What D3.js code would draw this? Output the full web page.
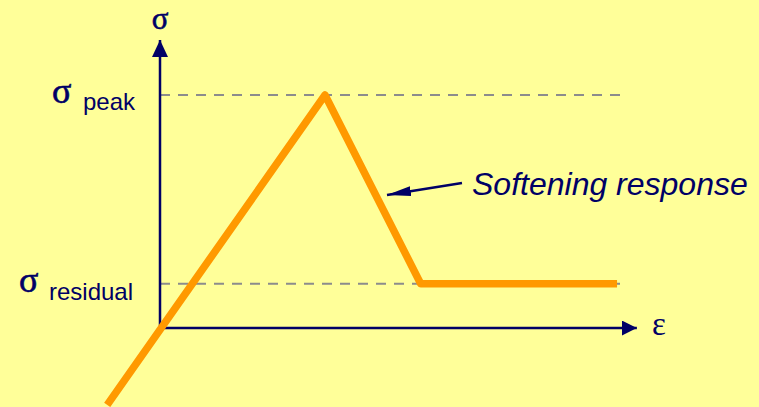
<!DOCTYPE html>
<html>
<head>
<meta charset="utf-8">
<script src="https://cdn.jsdelivr.net/npm/d3@7"></script>
<style>
  body { margin: 0; background: #ffff99; }
  svg { display: block; }
</style>
</head>
<body>
<script>
// data (strain / stress normalised to the peak)
const strain = [-0.32, 1, 1.58, 2.77];
const stress = [-0.33, 1, 0.19, 0.19];
const peakStress = 1;
const residualStress = 0.19;
const labels = { peak: 'peak', residual: 'residual', note: 'Softening response' };

const W = 759, H = 407;
const navy = '#000066';

const svg = d3.select('body').append('svg')
  .attr('width', W)
  .attr('height', H);

svg.append('rect').attr('width', W).attr('height', H).attr('fill', '#ffff99');

// scales: origin at (160, 328)
const x = d3.scaleLinear().domain([0, 1]).range([160, 325]);
const y = d3.scaleLinear().domain([0, 1]).range([328, 95]);

// arrow markers
const defs = svg.append('defs');
function marker(id, len, wid) {
  defs.append('marker')
    .attr('id', id)
    .attr('viewBox', '0 0 10 10')
    .attr('refX', 10).attr('refY', 5)
    .attr('markerUnits', 'userSpaceOnUse')
    .attr('markerWidth', len).attr('markerHeight', wid)
    .attr('orient', 'auto')
    .attr('preserveAspectRatio', 'none')
    .append('path').attr('d', 'M0,0 L10,5 L0,10 Z').attr('fill', navy);
}
marker('headY', 17, 16);
marker('headX', 15, 15);
marker('small', 24, 10);

// dashed reference lines
[peakStress, residualStress].forEach(v => {
  svg.append('line')
    .attr('x1', x(0)).attr('x2', x(2.79))
    .attr('y1', y(v)).attr('y2', y(v))
    .attr('stroke', '#8c8c8c')
    .attr('stroke-width', 2)
    .attr('stroke-dasharray', '10,8');
});

// axes
svg.append('line')
  .attr('x1', x(0)).attr('y1', y(0) + 1)
  .attr('x2', x(0)).attr('y2', y(1.236))
  .attr('stroke', navy).attr('stroke-width', 2.5)
  .attr('marker-end', 'url(#headY)');
svg.append('line')
  .attr('x1', x(0) - 1).attr('y1', y(0))
  .attr('x2', x(2.89)).attr('y2', y(0))
  .attr('stroke', navy).attr('stroke-width', 2.5)
  .attr('marker-end', 'url(#headX)');

// stress-strain curve
const line = d3.line()
  .x(d => x(d[0]))
  .y(d => y(d[1]));

svg.append('path')
  .datum(d3.zip(strain, stress))
  .attr('d', line)
  .attr('fill', 'none')
  .attr('stroke', '#ff9900')
  .attr('stroke-width', 7.5)
  .attr('stroke-linejoin', 'round');

// annotation arrow
svg.append('line')
  .attr('x1', 462).attr('y1', 183)
  .attr('x2', 387).attr('y2', 195)
  .attr('stroke', navy).attr('stroke-width', 2.5)
  .attr('marker-end', 'url(#small)');

// labels
const greek = 'Liberation Serif, DejaVu Serif, serif';
const sans = 'Liberation Sans, Arial, sans-serif';

svg.append('text')
  .attr('x', x(0)).attr('y', 28.5)
  .attr('text-anchor', 'middle')
  .attr('font-family', greek).attr('font-size', 31)
  .attr('stroke', navy).attr('stroke-width', 0.6)
  .attr('fill', navy).text('σ');

svg.append('text')
  .attr('x', 652).attr('y', 335)
  .attr('font-family', greek).attr('font-size', 33)
  .attr('fill', navy).text('ε');

function sigmaLabel(xSig, ySig, xSub, ySub, sub) {
  svg.append('text')
    .attr('x', xSig).attr('y', ySig)
    .attr('font-family', greek).attr('font-size', 36)
    .attr('stroke', navy).attr('stroke-width', 0.6)
    .attr('fill', navy).text('σ');
  svg.append('text')
    .attr('x', xSub).attr('y', ySub)
    .attr('font-family', sans).attr('font-size', 24)
    .attr('fill', navy).text(sub);
}
sigmaLabel(52, y(peakStress) + 8, 83, y(peakStress) + 15, labels.peak);
sigmaLabel(19, y(residualStress) + 8, 49, y(residualStress) + 16, labels.residual);

svg.append('text')
  .attr('x', 472).attr('y', 195)
  .attr('font-family', sans).attr('font-size', 32)
  .attr('font-style', 'italic')
  .attr('fill', navy).text(labels.note);
</script>
</body>
</html>
